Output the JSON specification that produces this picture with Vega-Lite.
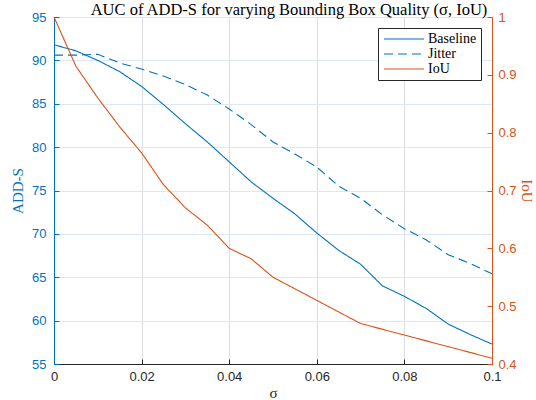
{
  "$schema": "https://vega.github.io/schema/vega-lite/v6.json",
  "autosize": {"type": "none"},
  "width": 438,
  "height": 347,
  "padding": {"left": 54, "top": 17, "right": 44, "bottom": 36},
  "background": "white",
  "config": {
    "view": {"stroke": null},
    "axis": {"labelFont": "Liberation Sans", "labelFontSize": 13, "titleFont": "Liberation Serif", "titleFontSize": 15, "titleFontWeight": "normal", "tickSize": -5, "gridWidth": 1},
    "legend": {"labelFont": "Liberation Serif", "labelFontSize": 14}
  },
  "title": {"text": "AUC of ADD-S for varying Bounding Box Quality (σ, IoU)", "font": "Liberation Serif", "fontSize": 16.5, "fontWeight": "normal", "color": "#000000", "anchor": "middle", "offset": -7, "dx": 16},
  "datasets": {
    "adds": [
      {"sigma": 0, "series": "Baseline", "value": 91.8},
      {"sigma": 0.005, "series": "Baseline", "value": 91.1},
      {"sigma": 0.01, "series": "Baseline", "value": 90.0},
      {"sigma": 0.015, "series": "Baseline", "value": 88.7},
      {"sigma": 0.02, "series": "Baseline", "value": 87.0},
      {"sigma": 0.025, "series": "Baseline", "value": 84.9},
      {"sigma": 0.03, "series": "Baseline", "value": 82.7},
      {"sigma": 0.035, "series": "Baseline", "value": 80.6},
      {"sigma": 0.04, "series": "Baseline", "value": 78.3},
      {"sigma": 0.045, "series": "Baseline", "value": 76.0},
      {"sigma": 0.05, "series": "Baseline", "value": 74.1},
      {"sigma": 0.055, "series": "Baseline", "value": 72.3},
      {"sigma": 0.06, "series": "Baseline", "value": 70.1},
      {"sigma": 0.065, "series": "Baseline", "value": 68.1},
      {"sigma": 0.07, "series": "Baseline", "value": 66.5},
      {"sigma": 0.075, "series": "Baseline", "value": 64.0},
      {"sigma": 0.08, "series": "Baseline", "value": 62.8},
      {"sigma": 0.085, "series": "Baseline", "value": 61.4},
      {"sigma": 0.09, "series": "Baseline", "value": 59.6},
      {"sigma": 0.095, "series": "Baseline", "value": 58.4},
      {"sigma": 0.1, "series": "Baseline", "value": 57.3},
      {"sigma": 0, "series": "Jitter", "value": 90.6},
      {"sigma": 0.005, "series": "Jitter", "value": 90.6},
      {"sigma": 0.01, "series": "Jitter", "value": 90.7},
      {"sigma": 0.015, "series": "Jitter", "value": 89.7},
      {"sigma": 0.02, "series": "Jitter", "value": 89.0},
      {"sigma": 0.025, "series": "Jitter", "value": 88.2},
      {"sigma": 0.03, "series": "Jitter", "value": 87.2},
      {"sigma": 0.035, "series": "Jitter", "value": 86.0},
      {"sigma": 0.04, "series": "Jitter", "value": 84.4},
      {"sigma": 0.045, "series": "Jitter", "value": 82.6},
      {"sigma": 0.05, "series": "Jitter", "value": 80.6},
      {"sigma": 0.055, "series": "Jitter", "value": 79.2},
      {"sigma": 0.06, "series": "Jitter", "value": 77.7},
      {"sigma": 0.065, "series": "Jitter", "value": 75.5},
      {"sigma": 0.07, "series": "Jitter", "value": 74.1},
      {"sigma": 0.075, "series": "Jitter", "value": 72.2},
      {"sigma": 0.08, "series": "Jitter", "value": 70.6},
      {"sigma": 0.085, "series": "Jitter", "value": 69.3},
      {"sigma": 0.09, "series": "Jitter", "value": 67.6},
      {"sigma": 0.095, "series": "Jitter", "value": 66.6},
      {"sigma": 0.1, "series": "Jitter", "value": 65.4}
    ],
    "iou": [
      {"sigma": 0, "series": "IoU", "value": 1.0},
      {"sigma": 0.005, "series": "IoU", "value": 0.915},
      {"sigma": 0.01, "series": "IoU", "value": 0.86},
      {"sigma": 0.015, "series": "IoU", "value": 0.81},
      {"sigma": 0.02, "series": "IoU", "value": 0.765},
      {"sigma": 0.025, "series": "IoU", "value": 0.71},
      {"sigma": 0.03, "series": "IoU", "value": 0.67},
      {"sigma": 0.035, "series": "IoU", "value": 0.64},
      {"sigma": 0.04, "series": "IoU", "value": 0.60},
      {"sigma": 0.045, "series": "IoU", "value": 0.582},
      {"sigma": 0.05, "series": "IoU", "value": 0.55},
      {"sigma": 0.055, "series": "IoU", "value": 0.53},
      {"sigma": 0.06, "series": "IoU", "value": 0.51},
      {"sigma": 0.065, "series": "IoU", "value": 0.49},
      {"sigma": 0.07, "series": "IoU", "value": 0.47},
      {"sigma": 0.075, "series": "IoU", "value": 0.46},
      {"sigma": 0.08, "series": "IoU", "value": 0.45},
      {"sigma": 0.085, "series": "IoU", "value": 0.44},
      {"sigma": 0.09, "series": "IoU", "value": 0.43},
      {"sigma": 0.095, "series": "IoU", "value": 0.42},
      {"sigma": 0.1, "series": "IoU", "value": 0.41}
    ]
  },
  "encoding": {
    "x": {
      "field": "sigma", "type": "quantitative",
      "scale": {"domain": [0, 0.1], "nice": false, "zero": false},
      "axis": {"title": "σ", "values": [0, 0.02, 0.04, 0.06, 0.08, 0.1], "format": ".2~f", "labelColor": "#262626", "domainColor": "#262626", "tickColor": "#262626", "titleColor": "#262626", "gridColor": "#d9dde2", "labelPadding": 11, "titlePadding": 2, "labelFlush": false}
    },
    "color": {
      "field": "series", "type": "nominal",
      "scale": {"domain": ["Baseline", "Jitter", "IoU"], "range": ["#0072BD", "#0072BD", "#D95319"]},
      "legend": {"title": null, "orient": "none", "legendX": 324, "legendY": 11, "strokeColor": "#262626", "fillColor": "white", "padding": 4, "rowPadding": 1, "symbolType": "M-1,0H7", "symbolSize": 100, "symbolStrokeWidth": 1.2, "labelOffset": 32, "labelColor": "#000000"}
    },
    "strokeDash": {
      "field": "series", "type": "nominal",
      "scale": {"domain": ["Baseline", "Jitter", "IoU"], "range": [[1, 0], [9, 5], [1, 0]]},
      "legend": {"title": null, "orient": "none", "legendX": 324, "legendY": 11, "strokeColor": "#262626", "fillColor": "white", "padding": 4, "rowPadding": 1, "symbolType": "M-1,0H7", "symbolSize": 100, "symbolStrokeWidth": 1.2, "labelOffset": 32, "labelColor": "#000000"}
    }
  },
  "layer": [
    {
      "data": {"name": "adds"},
      "mark": {"type": "line", "strokeWidth": 1.1},
      "encoding": {
        "y": {
          "field": "value", "type": "quantitative",
          "scale": {"domain": [55, 95], "nice": false, "zero": false},
          "axis": {"title": "ADD-S", "values": [55, 60, 65, 70, 75, 80, 85, 90, 95], "orient": "left", "labelColor": "#0072BD", "domainColor": "#0072BD", "tickColor": "#0072BD", "titleColor": "#0072BD", "gridColor": "#dce8f4", "labelPadding": 13, "titlePadding": 6, "labelFlush": false}
        }
      }
    },
    {
      "data": {"name": "iou"},
      "mark": {"type": "line", "strokeWidth": 1.1},
      "encoding": {
        "y": {
          "field": "value", "type": "quantitative",
          "scale": {"domain": [0.4, 1], "nice": false, "zero": false},
          "axis": {"title": "IoU", "values": [0.4, 0.5, 0.6, 0.7, 0.8, 0.9, 1], "format": ".1~f", "orient": "right", "grid": false, "labelColor": "#D95319", "domainColor": "#D95319", "tickColor": "#D95319", "titleColor": "#D95319", "labelPadding": 11, "titlePadding": 2, "labelFlush": false}
        }
      }
    }
  ],
  "resolve": {"scale": {"y": "independent"}}
}
